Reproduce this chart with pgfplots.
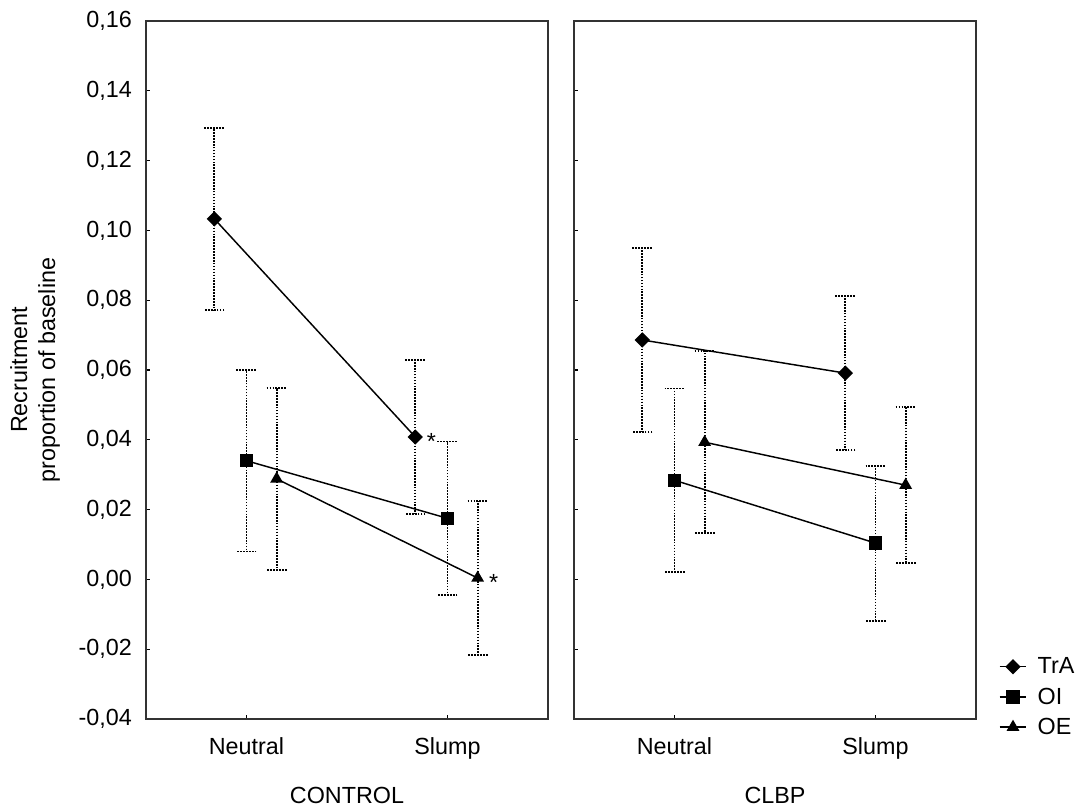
\documentclass[border=0pt]{standalone}
\usepackage{pgfplots}
\pgfplotsset{compat=1.18}
\usepackage{fontspec}
\setmainfont{Liberation Sans}

\def\fnt{\fontsize{17.5}{21}\selectfont}

\pgfplotsset{
  panel/.style={
    scale only axis, width=301.5pt, height=523.5pt,
    xmin=0.5, xmax=2.5, ymin=-0.04, ymax=0.16,
    xtick={1,2}, xticklabels={Neutral,Slump},
    ytick={-0.04,-0.02,0,0.02,0.04,0.06,0.08,0.10,0.12,0.14,0.16},
    xtick pos=bottom, ytick pos=left, tick align=inside,
    major tick length=3pt,
    axis line style={line width=1.5pt, black!80},
    every tick/.style={black, line width=1pt},
    tick label style={font=\fnt},
    label style={font=\fnt},
    yticklabel style={/pgf/number format/.cd, use comma, fixed, fixed zerofill,
      precision=2, assume math mode=true, /tikz/.cd, anchor=east, inner sep=0pt, xshift=-10.5pt},
    xticklabel style={anchor=north, inner sep=0pt, yshift=-14pt},
    xlabel style={at={(axis description cs:0.5,0)}, anchor=center, yshift=-57pt},
    clip=false,
    legend image code/.code={
      \draw[mark repeat=2, mark phase=2, #1] plot coordinates {(0pt,0pt) (10pt,0pt) (20pt,0pt)};
      \path (26pt,0pt);},
  },
  ser/.style={black, line width=1.1pt, mark size=4.5pt,
    error bars/y dir=both, error bars/y explicit,
    error bars/error bar style={line width=1.4pt, dash pattern=on 1.2pt off 1pt},
    error bars/error mark options={rotate=90, mark size=7.5pt, line width=1.4pt,
      dash pattern=on 1.2pt off 1pt}},
  dia/.style={mark=square*, mark options={solid, fill=black, rotate=45, mark size=3.5pt}},
  sqr/.style={mark=square*, mark options={solid, fill=black}},
  tri/.style={mark=triangle*, mark options={solid, fill=black}},
}

\begin{document}
\begin{tikzpicture}[font=\fnt]
\useasboundingbox (-109.5pt,-69.75pt) rectangle (702.75pt,539.25pt);

% CONTROL
\begin{axis}[panel, xlabel={CONTROL}]
  \addplot+[ser, dia] coordinates {
    (0.84,0.1033) +- (0,0.0261)
    (1.84,0.0408) +- (0,0.0220)};
  \addplot+[ser, sqr] coordinates {
    (1.00,0.0340) +- (0,0.0260)
    (2.00,0.0175) +- (0,0.0220)};
  \addplot+[ser, tri] coordinates {
    (1.15,0.0288) +- (0,0.0261)
    (2.15,0.0004) +- (0,0.0221)};
  \node[xshift=12pt, yshift=-3.5pt] at (axis cs:1.84,0.0408) {*};
  \node[xshift=12pt, yshift=-3.5pt] at (axis cs:2.15,0.0004) {*};
\end{axis}

% CLBP
\begin{axis}[panel, at={(321pt,0pt)}, xlabel={CLBP}, yticklabels={},
  legend style={draw=none, fill=none, at={(rel axis cs:1,0)}, anchor=west,
    xshift=14pt, yshift=16.5pt, font=\fnt, row sep=5pt},
  legend cell align=left]
  \addplot+[ser, dia] coordinates {
    (0.84,0.0686) +- (0,0.0263)
    (1.85,0.0591) +- (0,0.0221)};
  \addlegendentry{TrA}
  \addplot+[ser, sqr] coordinates {
    (1.00,0.0284) +- (0,0.0263)
    (2.00,0.0104) +- (0,0.0222)};
  \addlegendentry{OI}
  \addplot+[ser, tri] coordinates {
    (1.15,0.0393) +- (0,0.0261)
    (2.15,0.0270) +- (0,0.0223)};
  \addlegendentry{OE}
\end{axis}

\node[rotate=90, align=center, font=\fnt] at (-83.25pt,261.75pt)
  {Recruitment\\proportion of baseline};
\end{tikzpicture}
\end{document}
